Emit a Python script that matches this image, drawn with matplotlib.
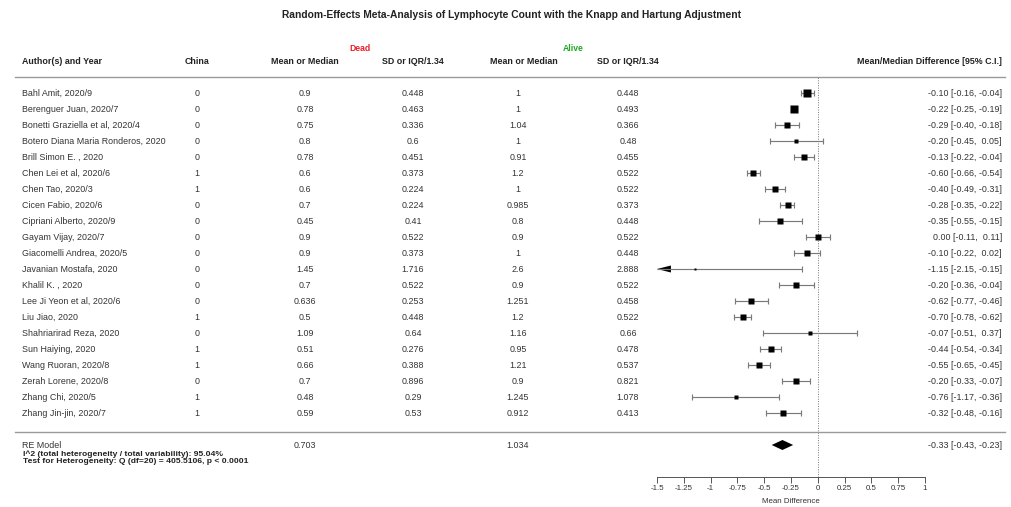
import numpy as np
import matplotlib
matplotlib.use("Agg")
import matplotlib.pyplot as plt
from matplotlib import transforms

plt.rcParams["font.family"] = ["Liberation Sans", "DejaVu Sans"]

# study table
authors = [
    "Bahl Amit, 2020/9", "Berenguer Juan, 2020/7", "Bonetti Graziella et al, 2020/4",
    "Botero Diana Maria Ronderos, 2020", "Brill Simon E. , 2020", "Chen Lei et al, 2020/6",
    "Chen Tao, 2020/3", "Cicen Fabio, 2020/6", "Cipriani Alberto, 2020/9",
    "Gayam Vijay, 2020/7", "Giacomelli Andrea, 2020/5", "Javanian Mostafa, 2020",
    "Khalil K. , 2020", "Lee Ji Yeon et al, 2020/6", "Liu Jiao, 2020",
    "Shahriarirad Reza, 2020", "Sun Haiying, 2020", "Wang Ruoran, 2020/8",
    "Zerah Lorene, 2020/8", "Zhang Chi, 2020/5", "Zhang Jin-jin, 2020/7",
]
china = [0, 0, 0, 0, 0, 1, 1, 0, 0, 0, 0, 0, 0, 0, 1, 0, 1, 1, 0, 1, 1]
dead_mean = [0.9, 0.78, 0.75, 0.8, 0.78, 0.6, 0.6, 0.7, 0.45, 0.9, 0.9, 1.45, 0.7,
             0.636, 0.5, 1.09, 0.51, 0.66, 0.7, 0.48, 0.59]
dead_sd = [0.448, 0.463, 0.336, 0.6, 0.451, 0.373, 0.224, 0.224, 0.41, 0.522, 0.373,
           1.716, 0.522, 0.253, 0.448, 0.64, 0.276, 0.388, 0.896, 0.29, 0.53]
alive_mean = [1, 1, 1.04, 1, 0.91, 1.2, 1, 0.985, 0.8, 0.9, 1, 2.6, 0.9, 1.251, 1.2,
              1.16, 0.95, 1.21, 0.9, 1.245, 0.912]
alive_sd = [0.448, 0.493, 0.366, 0.48, 0.455, 0.522, 0.522, 0.373, 0.448, 0.522, 0.448,
            2.888, 0.522, 0.458, 0.522, 0.66, 0.478, 0.537, 0.821, 1.078, 0.413]
est = [-0.10, -0.22, -0.29, -0.20, -0.13, -0.60, -0.40, -0.28, -0.35, 0.00, -0.10,
       -1.15, -0.20, -0.62, -0.70, -0.07, -0.44, -0.55, -0.20, -0.76, -0.32]
ci_lo = [-0.16, -0.25, -0.40, -0.45, -0.22, -0.66, -0.49, -0.35, -0.55, -0.11, -0.22,
         -2.15, -0.36, -0.77, -0.78, -0.51, -0.54, -0.65, -0.33, -1.17, -0.48]
ci_hi = [-0.04, -0.19, -0.18, 0.05, -0.04, -0.54, -0.31, -0.22, -0.15, 0.11, 0.02,
         -0.15, -0.04, -0.46, -0.62, 0.37, -0.34, -0.45, -0.07, -0.36, -0.16]
# box size in pixels (study weight)
box_px = [6, 6.7, 5, 4, 5.3, 5.7, 5.3, 5.3, 4.7, 5, 5, 2, 5, 5, 5.3, 3.3, 5, 5.3,
          5.3, 3.3, 5]

re_dead_mean = 0.703
re_alive_mean = 1.034
re_est, re_lo, re_hi = -0.33, -0.43, -0.23

xticks = [-1.5, -1.25, -1, -0.75, -0.5, -0.25, 0, 0.25, 0.5, 0.75, 1]
xtick_labels = ["-1.5", "-1.25", "-1", "-0.75", "-0.5", "-0.25", "0", "0.25", "0.5", "0.75", "1"]

W, H = 1011, 507
TXT = "#333333"
LINE = "#7a7a7a"
FS = 6.4

fig = plt.figure(figsize=(W / 100, H / 100), dpi=100)

# forest panel: rows are spaced 16 px, row 0 at y=93 px
ax_top, ax_bot = 77, 477
ax = fig.add_axes([657 / W, 1 - ax_bot / H, (925 - 657) / W, (ax_bot - ax_top) / H])
ax.set_xlim(-1.5, 1)
ax.set_ylim(24, -1)
for s in ["top", "right", "left"]:
    ax.spines[s].set_visible(False)
ax.spines["bottom"].set_color("#555555")
ax.spines["bottom"].set_linewidth(0.7)
ax.set_yticks([])
ax.set_xticks(xticks)
ax.set_xticklabels(xtick_labels)
ax.tick_params(axis="x", length=4, width=0.7, color="#555555", labelsize=5.7,
               labelcolor=TXT, pad=2)
ax.set_xlabel("Mean Difference", fontsize=5.7, color=TXT, labelpad=4)
ax.patch.set_alpha(0)

ax.axvline(0, color="#777777", lw=0.7, ls=(0, (1, 1.5)))

xmin = ax.get_xlim()[0]
cap = 2.6 / 16
rows = np.arange(len(authors))
for k in rows:
    lo, hi = ci_lo[k], ci_hi[k]
    left = max(lo, xmin)
    ax.hlines(k, left, hi, color=LINE, lw=0.85)
    ax.vlines(hi, k - cap, k + cap, color=LINE, lw=0.85)
    if lo >= xmin:
        ax.vlines(lo, k - cap, k + cap, color=LINE, lw=0.85)
    else:
        # arrow shows the interval runs past the axis
        alen, ah = 0.13, 3.5 / 16
        ax.fill([xmin, xmin + alen, xmin + alen], [k, k - ah, k + ah],
                color="black", lw=0, clip_on=False)
    ax.plot(est[k], k, marker="s", color="black", ms=box_px[k] * 0.85, mec="none")

# summary diamond
re_row = 22
dh = 5 / 16
ax.fill([re_lo, re_est, re_hi, re_est], [re_row, re_row - dh, re_row, re_row + dh],
        color="black", lw=0)

# table text, x in figure fraction, y in row units
tr = transforms.blended_transform_factory(fig.transFigure, ax.transData)
col_x = {"china": 197, "dm": 305, "ds": 413, "am": 518, "as": 628}
for k in rows:
    ax.text(22 / W, k, authors[k], transform=tr, ha="left", va="center", fontsize=FS, color=TXT)
    ax.text(col_x["china"] / W, k, f"{china[k]}", transform=tr, ha="center", va="center",
            fontsize=FS, color=TXT)
    ax.text(col_x["dm"] / W, k, f"{dead_mean[k]:g}", transform=tr, ha="center", va="center",
            fontsize=FS, color=TXT)
    ax.text(col_x["ds"] / W, k, f"{dead_sd[k]:g}", transform=tr, ha="center", va="center",
            fontsize=FS, color=TXT)
    ax.text(col_x["am"] / W, k, f"{alive_mean[k]:g}", transform=tr, ha="center", va="center",
            fontsize=FS, color=TXT)
    ax.text(col_x["as"] / W, k, f"{alive_sd[k]:g}", transform=tr, ha="center", va="center",
            fontsize=FS, color=TXT)
    ax.text(1002 / W, k, f"{est[k]:.2f} [{ci_lo[k]:.2f}, {ci_hi[k]:5.2f}]", transform=tr,
            ha="right", va="center", fontsize=FS, color=TXT)

# summary row
ax.text(22 / W, re_row, "RE Model", transform=tr, ha="left", va="center", fontsize=FS, color=TXT)
ax.text(col_x["dm"] / W, re_row, f"{re_dead_mean:g}", transform=tr, ha="center", va="center",
        fontsize=FS, color=TXT)
ax.text(col_x["am"] / W, re_row, f"{re_alive_mean:g}", transform=tr, ha="center", va="center",
        fontsize=FS, color=TXT)
ax.text(1002 / W, re_row, f"{re_est:.2f} [{re_lo:.2f}, {re_hi:5.2f}]", transform=tr,
        ha="right", va="center", fontsize=FS, color=TXT)
ax.text(23 / W, re_row + 0.58, "I^2 (total heterogeneity / total variability): 95.04%",
        transform=tr, ha="left", va="center", fontsize=6.1, fontweight="bold", color="#222222")
ax.text(23 / W, re_row + 1.04, "Test for Heterogeneity: Q (df=20) = 405.5106, p < 0.0001",
        transform=tr, ha="left", va="center", fontsize=6.1, fontweight="bold", color="#222222")

# header
hy = -1.94
headers = [(62, "Author(s) and Year"), (197, "China"), (305, "Mean or Median"),
           (413, "SD or IQR/1.34"), (524, "Mean or Median"), (628, "SD or IQR/1.34")]
for x, lab in headers:
    ax.text(x / W, hy, lab, transform=tr, ha="center", va="center", fontsize=FS,
            fontweight="bold", color="#222222")
ax.text(1002 / W, hy, "Mean/Median Difference [95% C.I.]", transform=tr, ha="right",
        va="center", fontsize=FS, fontweight="bold", color="#222222")
ax.text(360 / W, -2.8, "Dead", transform=tr, ha="center", va="center", fontsize=6.2,
        fontweight="bold", color="#ee1c25")
ax.text(573 / W, -2.8, "Alive", transform=tr, ha="center", va="center", fontsize=6.2,
        fontweight="bold", color="#1fa824")

# separator lines
for yl in [-1, 21.2]:
    ax.plot([15 / W, 1005 / W], [yl, yl], transform=tr, color="#9a9a9a", lw=1.0, clip_on=False)

fig.text(512 / W, 1 - 15 / H,
         "Random-Effects Meta-Analysis of Lymphocyte Count with the Knapp and Hartung Adjustment",
         ha="center", va="center", fontsize=7.4, fontweight="bold", color="#222222")

fig.savefig("out.png", dpi=100)
